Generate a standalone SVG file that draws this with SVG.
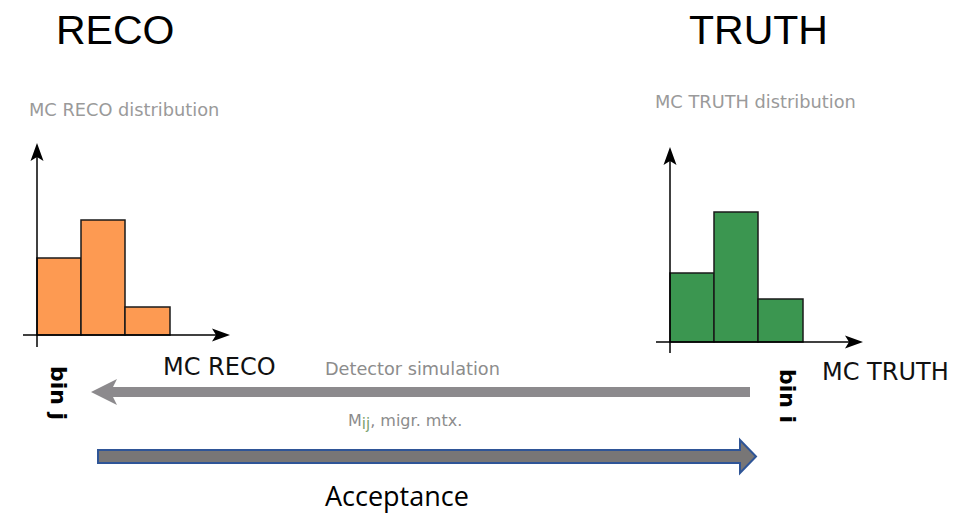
<svg xmlns="http://www.w3.org/2000/svg" width="979" height="514" viewBox="0 0 979 514">
  <style>
    .title { font-family: "Liberation Sans", Arial, sans-serif; font-size: 41px; fill: #000; }
    .dist { font-family: "DejaVu Sans", Verdana, sans-serif; font-size: 17.8px; fill: #9a9a9a; }
    .axislbl { font-family: "DejaVu Sans", Verdana, sans-serif; font-size: 24px; fill: #111; }
    .bin { font-family: "DejaVu Sans", Verdana, sans-serif; font-size: 22px; font-weight: bold; fill: #000; }
    .note { font-family: "DejaVu Sans", Verdana, sans-serif; fill: #8c8c8c; }
    .axis { stroke: #000; stroke-width: 1.5; fill: none; }
    .head { fill: #000; stroke: none; }
    .bar { stroke: #1a1a1a; stroke-width: 1.5; }
    .reco { fill: #fd9a52; }
    .truth { fill: #3b9650; }
  </style>
  <defs>
    <!-- concave axis arrowhead pointing right, tip at origin -->
    <path id="axhead" class="head" d="M0,0 L-18,-6.5 L-14,0 L-18,6.5 Z"/>
  </defs>

  <g id="reco-title"><text class="title" x="56" y="44">RECO</text></g>
  <g id="truth-title"><text class="title" x="689" y="44" font-size="42px">TRUTH</text></g>

  <!-- MC RECO histogram -->
  <g id="reco-hist">
    <text class="dist" x="29" y="116">MC RECO distribution</text>
    <rect class="bar reco" x="37" y="258" width="44" height="77"/>
    <rect class="bar reco" x="81" y="220" width="44" height="115"/>
    <rect class="bar reco" x="125" y="307" width="45" height="28"/>
    <line class="axis" x1="37" y1="347" x2="37" y2="148"/>
    <use href="#axhead" transform="translate(37,143) rotate(-90)"/>
    <line class="axis" x1="23" y1="335" x2="225" y2="335"/>
    <use href="#axhead" transform="translate(230,335)"/>
    <text class="axislbl" x="163" y="375">MC RECO</text>
    <text class="bin" transform="translate(51,366) rotate(90)">bin j</text>
  </g>

  <!-- MC TRUTH histogram -->
  <g id="truth-hist">
    <text class="dist" x="655" y="108">MC TRUTH distribution</text>
    <rect class="bar truth" x="670" y="273" width="44" height="69"/>
    <rect class="bar truth" x="714" y="212" width="44" height="130"/>
    <rect class="bar truth" x="758" y="299" width="45" height="43"/>
    <line class="axis" x1="670" y1="353" x2="670" y2="152"/>
    <use href="#axhead" transform="translate(670,147) rotate(-90)"/>
    <line class="axis" x1="656" y1="342" x2="858" y2="342"/>
    <use href="#axhead" transform="translate(863,342)"/>
    <text class="axislbl" x="822" y="380">MC TRUTH</text>
    <text class="bin" transform="translate(780,369) rotate(90)">bin i</text>
  </g>

  <!-- connectors -->
  <g id="connectors">
    <path id="detector-sim" fill="#8c8a8d" d="M750,387 L113,387 L117,379 L91,392 L117,405 L113,397 L750,397 Z"/>
    <text class="note" x="325" y="375" font-size="17.7px">Detector simulation</text>
    <text class="note" x="348" y="426" font-size="16px">M<tspan fill="#7c9f6c" font-size="15px" dy="3">ij</tspan><tspan dy="-3">, migr. mtx.</tspan></text>
    <path id="acceptance" fill="#787676" stroke="#2f5597" stroke-width="2" stroke-linejoin="miter" d="M98,450 L740,450 L740,440 L756,456.5 L740,473 L740,463 L98,463 Z"/>
    <text x="325" y="506" font-family="'Open Sans', 'Liberation Sans', sans-serif" font-size="27px" fill="#000">Acceptance</text>
  </g>
</svg>
